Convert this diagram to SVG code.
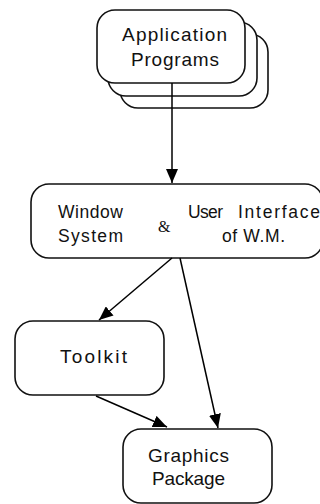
<svg xmlns="http://www.w3.org/2000/svg" width="320" height="504" viewBox="0 0 320 504">
<style>
.box{fill:#fff;stroke:#111;stroke-width:1.6}
.t{font-family:"Liberation Sans",Arial,sans-serif;font-size:19px;fill:#111}
.s{font-family:"Liberation Sans",Arial,sans-serif;font-size:17.5px;fill:#111}
.amp{font-family:"Liberation Serif","Times New Roman",serif;font-size:16px;fill:#111}
.c{fill:none;stroke:#000;stroke-width:1.5}
</style>
<defs>
<marker id="ah" markerUnits="userSpaceOnUse" markerWidth="15" markerHeight="12" refX="14" refY="6" orient="auto">
<path d="M0,0 L14,6 L0,12 z" fill="#000"/>
</marker>
</defs>
<g id="app">
<rect class="box" x="120" y="34" width="148" height="74" rx="18"/>
<rect class="box" x="108" y="22" width="149" height="74" rx="18"/>
<rect class="box" x="97" y="10" width="148" height="73" rx="18"/>
<text class="t" x="122" y="41" textLength="105" lengthAdjust="spacing">Application</text>
<text class="t" x="131" y="66" textLength="88" lengthAdjust="spacing">Programs</text>
</g>
<g id="wm">
<rect class="box" x="31" y="184" width="292" height="74" rx="18"/>
<text class="s" x="58" y="218" textLength="65" lengthAdjust="spacing">Window</text>
<text class="s" x="58" y="242" textLength="65" lengthAdjust="spacing">System</text>
<text class="amp" x="158" y="232">&amp;</text>
<text class="s" x="188" y="218" textLength="35" lengthAdjust="spacing">User</text>
<text class="s" x="238" y="218" textLength="82" lengthAdjust="spacing">Interface</text>
<text class="s" x="222" y="242" textLength="63" lengthAdjust="spacing">of W.M.</text>
</g>
<g id="toolkit">
<rect class="box" x="15" y="321" width="149" height="74" rx="18"/>
<text class="t" x="60" y="363" textLength="67" lengthAdjust="spacing">Toolkit</text>
</g>
<g id="graphics">
<rect class="box" x="123" y="429" width="149" height="74" rx="18"/>
<text class="t" x="148" y="462" textLength="81" lengthAdjust="spacing">Graphics</text>
<text class="t" x="152" y="485" textLength="73" lengthAdjust="spacing">Package</text>
</g>
<g id="connectors">
<line class="c" x1="172" y1="83" x2="172" y2="183" marker-end="url(#ah)"/>
<line class="c" x1="172" y1="258" x2="99" y2="320" marker-end="url(#ah)"/>
<line class="c" x1="180" y1="258" x2="218" y2="428" marker-end="url(#ah)"/>
<line class="c" x1="96" y1="396" x2="167" y2="427" marker-end="url(#ah)"/>
</g>
</svg>
